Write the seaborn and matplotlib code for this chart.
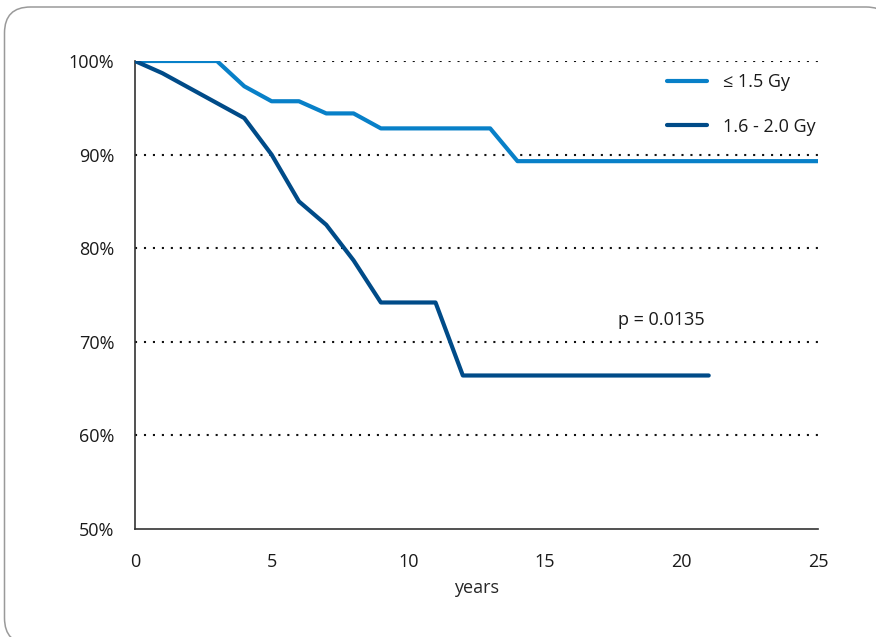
import matplotlib
matplotlib.use("Agg")
import matplotlib.pyplot as plt
from matplotlib.patches import FancyBboxPatch
import seaborn as sns
import pandas as pd

# Survival curves (percent) by year for the two dose groups
years_low = list(range(0, 26))
surv_low = [100, 100, 100, 100, 97.3, 95.7, 95.7, 94.4, 94.4,
            92.8, 92.8, 92.8, 92.8, 92.8,
            89.3, 89.3, 89.3, 89.3, 89.3, 89.3, 89.3, 89.3, 89.3, 89.3, 89.3, 89.3]
years_high = list(range(0, 22))
surv_high = [100, 98.7, 97.1, 95.5, 93.9, 90.0, 85.0, 82.5, 78.7,
             74.2, 74.2, 74.2,
             66.4, 66.4, 66.4, 66.4, 66.4, 66.4, 66.4, 66.4, 66.4, 66.4]
groups = ["\u2264 1.5 Gy", "1.6 - 2.0 Gy"]
colors = ["#0880c8", "#004b88"]
y_ticks = [50, 60, 70, 80, 90, 100]
x_ticks = [0, 5, 10, 15, 20, 25]
p_label = "p = 0.0135"

df = pd.concat([
    pd.DataFrame({"years": years_low, "survival": surv_low, "group": groups[0]}),
    pd.DataFrame({"years": years_high, "survival": surv_high, "group": groups[1]}),
], ignore_index=True)

sns.set_style("white")
plt.rcParams["font.family"] = ["Open Sans", "DejaVu Sans"]
plt.rcParams["text.color"] = "#1a1a1a"

FS = 13

fig = plt.figure(figsize=(8.76, 6.37), dpi=100)
ax = fig.add_axes([135 / 876, 1 - 529 / 637, 683 / 876, 468 / 637])

# dotted reference lines
for v in y_ticks[1:]:
    ax.axhline(v, color="#111111", lw=1.5, ls=(0, (1, 3.3)), zorder=1)

sns.lineplot(data=df, x="years", y="survival", hue="group",
             palette=dict(zip(groups, colors)), lw=3.0, ax=ax,
             estimator=None, zorder=3)

ax.set_xlim(0, 25)
ax.set_ylim(50, 100)
ax.set_xticks(x_ticks)
ax.set_yticks(y_ticks)
ax.set_yticklabels([f"{v}%" for v in y_ticks])
ax.set_xlabel("years", fontsize=FS, labelpad=6)
ax.set_ylabel("")

for side in ("top", "right"):
    ax.spines[side].set_visible(False)
for side in ("left", "bottom"):
    ax.spines[side].set_color("#333333")
    ax.spines[side].set_linewidth(1.2)

ax.tick_params(axis="both", which="major", labelsize=FS, colors="#333333",
               labelcolor="#1a1a1a", width=1.2, direction="out")
ax.tick_params(axis="y", length=8, pad=7)
ax.tick_params(axis="x", length=7, pad=10)

leg = ax.legend(loc="center left", bbox_to_anchor=(0.779, 0.907),
                frameon=False, fontsize=FS, handlelength=2.2,
                handletextpad=0.9, labelspacing=1.45, borderpad=0,
                borderaxespad=0)
for line in leg.get_lines():
    line.set_linewidth(3.0)

ax.text(19.25, 72.3, p_label, fontsize=FS, ha="center", va="center")

# rounded frame around the whole figure (right and bottom edges run off the canvas);
# filled white behind the axes so the outline is not clipped to the canvas edge
frame = FancyBboxPatch((0.045, -0.07), 8.875, 6.37,
                       boxstyle="round,pad=0,rounding_size=0.26",
                       transform=fig.dpi_scale_trans, facecolor="white",
                       edgecolor="#9a9a9a", lw=1.1, clip_on=False, zorder=-1)
fig.add_artist(frame)

fig.savefig("out.png", dpi=100)
